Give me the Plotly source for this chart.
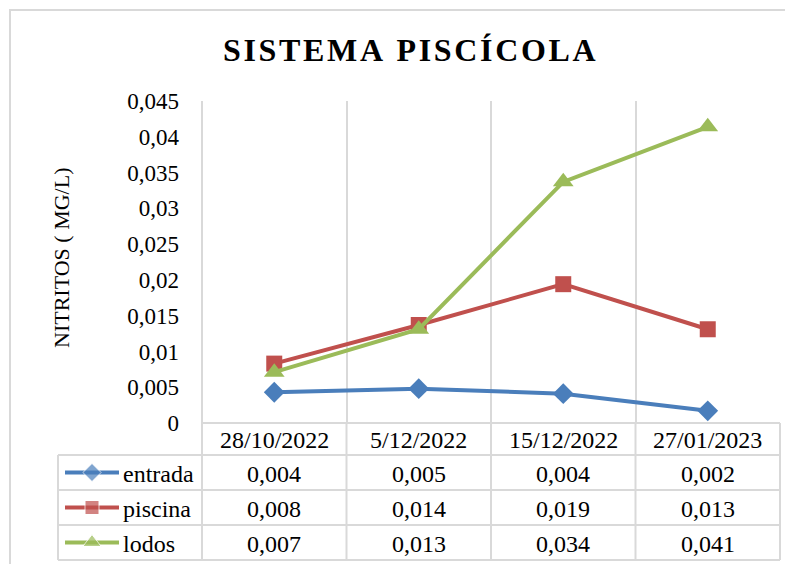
import plotly.graph_objects as go

# data
fechas = ["28/10/2022", "5/12/2022", "15/12/2022", "27/01/2023"]
series = ["entrada", "piscina", "lodos"]
entrada = [0.0043, 0.0048, 0.0041, 0.0017]
piscina = [0.0083, 0.0137, 0.0194, 0.0131]
lodos = [0.0071, 0.0131, 0.0337, 0.0414]
y_ticks = [0, 0.005, 0.01, 0.015, 0.02, 0.025, 0.03, 0.035, 0.04, 0.045]

W, H = 793, 564
OFF = 8  # page margin of the viewer, pixel layout below is in screen coords
colores = {"entrada": "#4a7ebb", "piscina": "#c0504d", "lodos": "#9bbb59"}
simbolos = {"entrada": "diamond", "piscina": "square", "lodos": "triangle-up"}
tam = {"entrada": 16, "piscina": 16, "lodos": 18}
valores = {"entrada": entrada, "piscina": piscina, "lodos": lodos}
FONT = "Liberation Serif, Times New Roman, serif"
GRID = "#d9d9d9"


def px(x):
    return (x - OFF) / W


def py(y):
    return 1 - (y - OFF) / H


# plot area and table geometry (screen pixels)
X0, X1 = 202, 780
Y0, Y1 = 101, 423
ROWS = [423, 455, 490, 525, 560]
LEG_X = 58

fig = go.Figure()

for s in series:
    fig.add_trace(go.Scatter(
        x=fechas, y=valores[s], mode="lines+markers", name=s,
        line=dict(color=colores[s], width=4),
        marker=dict(symbol=simbolos[s], size=tam[s], color=colores[s]),
        xaxis="x", yaxis="y", showlegend=False,
    ))

# legend keys inside the data table (second axis in pixel units)
for i, s in enumerate(series):
    yc = (ROWS[i + 1] + ROWS[i + 2]) / 2 - OFF
    fig.add_trace(go.Scatter(
        x=[65 - OFF, 92 - OFF, 119 - OFF], y=[yc, yc, yc], mode="lines+markers",
        line=dict(color=colores[s], width=4),
        marker=dict(symbol=simbolos[s], size=[0, tam[s] - 2, 0], color=colores[s]),
        xaxis="x2", yaxis="y2", showlegend=False, hoverinfo="skip",
    ))

shapes = []
# outer chart border
shapes.append(dict(type="rect", xref="paper", yref="paper",
                   x0=px(10), x1=px(805), y0=py(580), y1=py(10),
                   line=dict(color=GRID, width=2)))
# left axis line
shapes.append(dict(type="line", xref="paper", yref="paper",
                   x0=px(X0), x1=px(X0), y0=py(ROWS[-1]), y1=py(Y0),
                   line=dict(color=GRID, width=2)))
# vertical separators through the table
for k in range(1, 5):
    xs = X0 + k * (X1 - X0) / 4
    shapes.append(dict(type="line", xref="paper", yref="paper",
                       x0=px(xs), x1=px(xs), y0=py(Y1), y1=py(ROWS[-1]),
                       line=dict(color=GRID, width=2)))
shapes.append(dict(type="line", xref="paper", yref="paper",
                   x0=px(LEG_X), x1=px(LEG_X), y0=py(ROWS[1]), y1=py(ROWS[-1]),
                   line=dict(color=GRID, width=2)))
# horizontal table rules
for j, yr in enumerate(ROWS):
    xa = X0 if j == 0 else LEG_X
    shapes.append(dict(type="line", xref="paper", yref="paper",
                       x0=px(xa), x1=px(X1), y0=py(yr), y1=py(yr),
                       line=dict(color=GRID, width=2)))

annotations = []
tfont = dict(family=FONT, size=24, color="black")
for i, f in enumerate(fechas):
    annotations.append(dict(x=i, xref="x", y=py((ROWS[0] + ROWS[1]) / 2 + 1), yref="paper",
                            text=f, showarrow=False, font=tfont,
                            xanchor="center", yanchor="middle"))
for r, s in enumerate(series):
    yc = py((ROWS[r + 1] + ROWS[r + 2]) / 2 + 1)
    annotations.append(dict(x=px(121), xref="paper", y=yc, yref="paper",
                            text=s, showarrow=False, font=tfont,
                            xanchor="left", yanchor="middle"))
    for i, v in enumerate(valores[s]):
        annotations.append(dict(x=i, xref="x", y=yc, yref="paper",
                                text=f"{v:.3f}".replace(".", ","), showarrow=False,
                                font=tfont, xanchor="center", yanchor="middle"))

# axis title
annotations.append(dict(x=px(62), y=py(258), xref="paper", yref="paper",
                        text="NITRITOS ( MG/L)", textangle=-90, showarrow=False,
                        xanchor="center", yanchor="middle",
                        font=dict(family=FONT, size=22, color="black")))

titulo = "\u200a".join("SISTEMA PISCÍCOLA")
annotations.append(dict(x=px(409), y=py(50), xref="paper", yref="paper",
                        text=f"<b>{titulo}</b>", showarrow=False,
                        font=dict(family=FONT, size=32, color="black"),
                        xanchor="center", yanchor="middle"))

fig.update_layout(
    width=W, height=H,
    margin=dict(l=0, r=0, t=0, b=0, autoexpand=False),
    paper_bgcolor="white", plot_bgcolor="rgba(0,0,0,0)",
    separators=",.",
    xaxis=dict(domain=[px(X0), px(X1)], type="category", range=[-0.5, 3.5],
               showticklabels=False, showgrid=True, gridcolor=GRID, gridwidth=2,
               tickson="boundaries", ticks="", showline=False, zeroline=False,
               fixedrange=True),
    yaxis=dict(domain=[py(Y1), py(Y0)], range=[0, 0.045], tickvals=y_ticks,
               showgrid=False, zeroline=False, showline=False, ticks="",
               tickfont=dict(family=FONT, size=23, color="black"),
               ticklabelstandoff=22, fixedrange=True),
    xaxis2=dict(domain=[0, 1], range=[0, W], visible=False, fixedrange=True),
    yaxis2=dict(domain=[0, 1], range=[H, 0], visible=False, fixedrange=True,
                anchor="x2"),
    shapes=shapes,
    annotations=annotations,
)

fig.write_html("out.html")
